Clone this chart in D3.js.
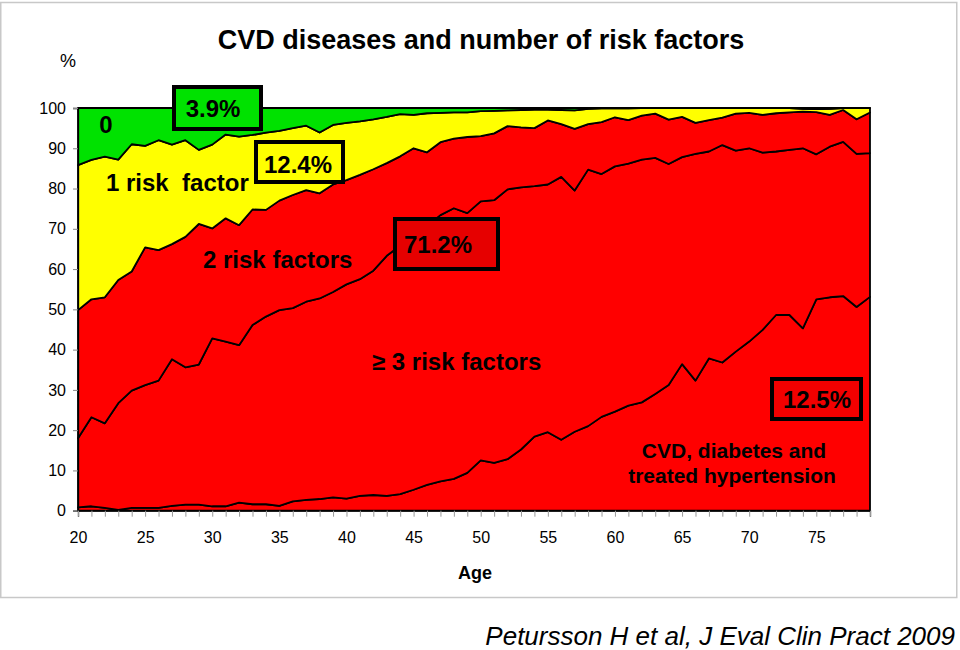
<!DOCTYPE html>
<html>
<head>
<meta charset="utf-8">
<script src="https://cdn.jsdelivr.net/npm/d3@7"></script>
<style>
  html, body { margin: 0; padding: 0; background: #fff; }
  svg { display: block; }
  text { font-family: "Liberation Sans", Arial, sans-serif; }
</style>
</head>
<body>
<svg id="chart" width="960" height="650"></svg>
<script>
// ---- data ----
const ages = [20,21,22,23,24,25,26,27,28,29,30,31,32,33,34,35,36,37,38,39,
              40,41,42,43,44,45,46,47,48,49,50,51,52,53,54,55,56,57,58,59,
              60,61,62,63,64,65,66,67,68,69,70,71,72,73,74,75,76,77,78,79];

// cumulative boundaries (%), bottom to top
const cumCVD = [0.8,1.1,0.7,0.2,0.7,0.7,0.7,1.2,1.5,1.5,
                1.1,1.1,2.0,1.6,1.6,1.2,2.3,2.7,2.9,3.3,
                3.0,3.7,3.9,3.7,4.1,5.2,6.4,7.3,7.9,9.4,
                12.5,11.9,12.8,15.2,18.4,19.5,17.6,19.6,21.0,23.3,
                24.6,26.1,26.9,29.0,31.2,36.4,32.3,37.8,36.8,39.5,
                42.0,44.9,48.6,48.6,45.3,52.5,53.0,53.3,50.6,53.1];
const cumThreePlus = [18.0,23.2,21.7,26.7,29.8,31.2,32.3,37.6,35.6,36.3,
                      42.8,42.0,41.1,46.1,48.2,49.8,50.3,51.9,52.7,54.3,
                      56.2,57.5,59.6,63.3,65.8,68.3,70.8,73.4,75.1,73.9,
                      76.8,77.1,79.8,80.3,80.6,81.0,82.9,79.5,84.7,83.6,
                      85.5,86.2,87.2,87.6,86.1,87.8,88.6,89.2,90.8,89.4,
                      90.0,88.9,89.2,89.6,90.0,88.5,90.4,91.6,88.6,88.8];
const cumTwo = [49.8,52.5,53.0,57.3,59.4,65.4,64.7,66.2,68.0,71.2,
                70.1,72.6,70.9,74.8,74.7,77.0,78.4,79.6,78.8,81.0,
                82.1,83.4,84.8,86.3,88.0,90.0,89.0,91.5,92.4,92.8,
                93.0,93.7,95.5,95.2,95.0,96.9,96.0,94.8,96.0,96.5,
                97.7,97.0,98.1,98.6,97.1,97.8,96.3,97.0,97.6,98.6,
                98.8,98.3,98.7,98.9,99.1,99.0,98.3,99.5,97.2,98.9];
const cumOne = [85.8,87.1,87.9,87.2,91.0,90.6,92.0,90.9,92.0,89.6,
                90.9,93.4,92.9,93.3,93.9,94.3,95.0,95.6,93.9,95.8,
                96.3,96.7,97.2,97.8,98.5,98.3,98.7,98.8,98.9,98.9,
                99.2,99.3,99.4,99.5,99.6,99.6,99.5,99.4,99.8,99.9,
                99.9,99.9,100,100,100,100,100,100,100,100,
                100,100,100,100,99.8,99.7,99.8,100,100,100];
const cumTotal = [100,100,100,100,100,100,100,100,100,100,
                  100,100,100,100,100,100,100,100,100,100,
                  100,100,100,100,100,100,100,100,100,100,
                  100,100,100,100,100,100,100,100,100,100,
                  100,100,100,100,100,100,100,100,100,100,
                  100,100,100,100,100,100,100,100,100,100];

const yTickValues = [0,10,20,30,40,50,60,70,80,90,100];
const xTickLabels = [20,25,30,35,40,45,50,55,60,65,70,75];

const seriesNames = ["CVD, diabetes and treated hypertension", "≥ 3 risk factors", "2 risk factors", "1 risk factor", "0"];
const seriesColors = ["#ff0000", "#ff0000", "#ff0000", "#ffff00", "#00e200"];

// ---- chart ----
const svg = d3.select("#chart");
const margin = {left: 78, right: 90, top: 108, bottom: 139.3};
const W = 960, H = 650;

const x = d3.scaleLinear().domain([ages[0], ages[ages.length - 1]]).range([margin.left, W - margin.right]);
const y = d3.scaleLinear().domain([0, 100]).range([H - margin.bottom, margin.top]);

// outer frame
svg.append("rect").attr("x", 0.75).attr("y", 2.5).attr("width", 956).attr("height", 595)
  .attr("fill", "none").attr("stroke", "#c8c8c8").attr("stroke-width", 1.5);

// layers
const bounds = [null, cumCVD, cumThreePlus, cumTwo, cumOne, cumTotal];
const layers = seriesNames.map((name, i) => ({
  name, color: seriesColors[i],
  pts: ages.map((a, j) => ({age: a, lo: bounds[i] ? bounds[i][j] : 0, hi: bounds[i + 1][j]}))
}));

const area = d3.area().x(d => x(d.age)).y0(d => y(d.lo)).y1(d => y(d.hi)).curve(d3.curveLinear);
svg.append("g").selectAll("path").data(layers).join("path")
  .attr("d", d => area(d.pts))
  .attr("fill", d => d.color)
  .attr("stroke", "#000").attr("stroke-width", 1.8).attr("stroke-linejoin", "round");

// axes
const yAxis = d3.axisLeft(y).tickValues(yTickValues).tickSize(5).tickPadding(7);
const gy = svg.append("g").attr("transform", `translate(${margin.left},0)`).call(yAxis);
gy.select(".domain").attr("stroke", "#000").attr("stroke-width", 1.3);
gy.selectAll(".tick line").attr("stroke", "#888");
gy.selectAll(".tick text").attr("font-size", 16).attr("fill", "#000")
  .attr("font-family", "Liberation Sans, Arial, sans-serif");

const xMinor = d3.axisBottom(x).tickValues(ages).tickSize(6).tickFormat("");
const gxm = svg.append("g").attr("transform", `translate(0,${y(0)})`).call(xMinor);
gxm.select(".domain").attr("stroke", "#000").attr("stroke-width", 1.3);
gxm.selectAll(".tick line").attr("stroke", "#999");

const xAxis = d3.axisBottom(x).tickValues(xTickLabels).tickSize(0).tickPadding(21).tickFormat(d3.format("d"));
const gx = svg.append("g").attr("transform", `translate(0,${y(0)})`).call(xAxis);
gx.select(".domain").remove();
gx.selectAll(".tick text").attr("font-size", 16).attr("fill", "#000")
  .attr("font-family", "Liberation Sans, Arial, sans-serif");

// titles
svg.append("text").attr("x", 481).attr("y", 49).attr("text-anchor", "middle")
  .attr("font-size", 27).attr("font-weight", "bold")
  .text("CVD diseases and number of risk factors");
svg.append("text").attr("x", 68).attr("y", 67).attr("text-anchor", "middle")
  .attr("font-size", 18).text("%");
svg.append("text").attr("x", 475).attr("y", 579).attr("text-anchor", "middle")
  .attr("font-size", 18).attr("font-weight", "bold").text("Age");
svg.append("text").attr("x", 955).attr("y", 645).attr("text-anchor", "end")
  .attr("font-size", 26).attr("font-style", "italic").text("Petursson H et al, J Eval Clin Pract 2009");

// in-chart labels
const labels = [
  {t: "0", x: 106, y: 133, a: "middle", s: 24},
  {t: "1 risk  factor", x: 106, y: 191, a: "start", s: 24},
  {t: "2 risk factors", x: 203, y: 268, a: "start", s: 24},
  {t: "≥ 3 risk factors", x: 372, y: 370, a: "start", s: 24},
  {t: "CVD, diabetes and", x: 734, y: 458, a: "middle", s: 21},
  {t: "treated hypertension", x: 732, y: 483, a: "middle", s: 21}
];
svg.append("g").selectAll("text").data(labels).join("text")
  .attr("x", d => d.x).attr("y", d => d.y).attr("text-anchor", d => d.a)
  .attr("font-size", d => d.s).attr("font-weight", "bold")
  .style("white-space", "pre").attr("xml:space", "preserve")
  .text(d => d.t);

// percentage boxes
const boxes = [
  {t: "3.9%",  x0: 174, y0: 87,  w: 87,  h: 42, fill: "#00e200", tx: 213, ty: 117},
  {t: "12.4%", x0: 256, y0: 142, w: 87,  h: 40, fill: "#ffff00", tx: 298, ty: 173},
  {t: "71.2%", x0: 395, y0: 219, w: 103, h: 50, fill: "#e60000", tx: 438, ty: 253},
  {t: "12.5%", x0: 772, y0: 379, w: 89,  h: 40, fill: "#f20000", tx: 817, ty: 408}
];
const gb = svg.append("g").selectAll("g").data(boxes).join("g");
gb.append("rect").attr("x", d => d.x0).attr("y", d => d.y0).attr("width", d => d.w).attr("height", d => d.h)
  .attr("fill", d => d.fill).attr("stroke", "#000").attr("stroke-width", 4);
gb.append("text").attr("x", d => d.tx).attr("y", d => d.ty).attr("text-anchor", "middle")
  .attr("font-family", "Lato, 'Open Sans', sans-serif").attr("font-weight", "bold").attr("font-size", 24)
  .attr("fill", "#000").text(d => d.t);
</script>
</body>
</html>
